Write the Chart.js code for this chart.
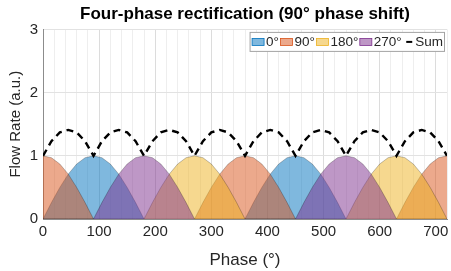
<!DOCTYPE html>
<html>
<head>
<meta charset="utf-8">
<script src="https://cdn.jsdelivr.net/npm/chart.js@4.4.0/dist/chart.umd.min.js"></script>
<style>
  html, body { margin: 0; padding: 0; background: #fff; }
</style>
</head>
<body>
<canvas id="grafico" width="451" height="271"></canvas>
<script>
// phase angle (degrees), sampled every 15°
const phases = [
  0, 15, 30, 45, 60, 75, 90, 105, 120, 135, 150, 165,
  180, 195, 210, 225, 240, 255, 270, 285, 300, 315, 330, 345,
  360, 375, 390, 405, 420, 435, 450, 465, 480, 495, 510, 525,
  540, 555, 570, 585, 600, 615, 630, 645, 660, 675, 690, 705,
  720
];

// rectified flow of each phase (a.u.)
const flow0 = [
  0, .26, .5, .71, .87, .97, 1, .97, .87, .71, .5, .26,
  0, 0, 0, 0, 0, 0, 0, 0, 0, 0, 0, 0,
  0, .26, .5, .71, .87, .97, 1, .97, .87, .71, .5, .26,
  0, 0, 0, 0, 0, 0, 0, 0, 0, 0, 0, 0,
  0
];
const flow90 = [
  1, .97, .87, .71, .5, .26, 0, 0, 0, 0, 0, 0,
  0, 0, 0, 0, 0, 0, 0, .26, .5, .71, .87, .97,
  1, .97, .87, .71, .5, .26, 0, 0, 0, 0, 0, 0,
  0, 0, 0, 0, 0, 0, 0, .26, .5, .71, .87, .97,
  1
];
const flow180 = [
  0, 0, 0, 0, 0, 0, 0, 0, 0, 0, 0, 0,
  0, .26, .5, .71, .87, .97, 1, .97, .87, .71, .5, .26,
  0, 0, 0, 0, 0, 0, 0, 0, 0, 0, 0, 0,
  0, .26, .5, .71, .87, .97, 1, .97, .87, .71, .5, .26,
  0
];
const flow270 = [
  0, 0, 0, 0, 0, 0, 0, .26, .5, .71, .87, .97,
  1, .97, .87, .71, .5, .26, 0, 0, 0, 0, 0, 0,
  0, 0, 0, 0, 0, 0, 0, .26, .5, .71, .87, .97,
  1, .97, .87, .71, .5, .26, 0, 0, 0, 0, 0, 0,
  0
];
const flowSum = [
  1, 1.23, 1.37, 1.41, 1.37, 1.23, 1, 1.23, 1.37, 1.41, 1.37, 1.23,
  1, 1.23, 1.37, 1.41, 1.37, 1.23, 1, 1.23, 1.37, 1.41, 1.37, 1.23,
  1, 1.23, 1.37, 1.41, 1.37, 1.23, 1, 1.23, 1.37, 1.41, 1.37, 1.23,
  1, 1.23, 1.37, 1.41, 1.37, 1.23, 1, 1.23, 1.37, 1.41, 1.37, 1.23,
  1
];

const nomes = ["0°", "90°", "180°", "270°", "Sum"];

const fonte = "'Liberation Sans', Arial, Helvetica, sans-serif";

function pontos(valores) {
  return phases.map((x, i) => ({ x, y: valores[i] }));
}

function area(nome, valores, cor, preenchimento, ordem) {
  return {
    label: nome,
    data: pontos(valores),
    fill: "origin",
    backgroundColor: preenchimento,
    borderColor: "rgba(0,0,0,0.3)",
    borderWidth: 0.8,
    swatchEdge: cor,
    pointRadius: 0,
    tension: 0,
    order: ordem
  };
}

// legend drawn inside the axes, top right, with a box
const legendaBox = {
  id: "legendaBox",
  afterDraw(chart) {
    const ctx = chart.ctx;
    const a = chart.chartArea;
    ctx.save();
    ctx.font = "13.5px " + fonte;
    const itens = chart.data.datasets.map(ds => ({ ds, w: ctx.measureText(ds.label).width }));
    let largura = 2;
    itens.forEach(it => { largura += (it.ds.fill ? 12 : 10) + 2 + it.w + 1.5; });
    const direita = a.right - 2.5;
    const esquerda = direita - largura;
    const topo = a.top + 3;
    const altura = 19;
    ctx.fillStyle = "#fff";
    ctx.fillRect(esquerda, topo, largura, altura);
    ctx.strokeStyle = "#a3a3a3";
    ctx.lineWidth = 1;
    ctx.strokeRect(esquerda, topo, largura, altura);

    let x = esquerda + 2;
    const cy = topo + altura / 2;
    ctx.textBaseline = "middle";
    itens.forEach(it => {
      const ds = it.ds;
      if (ds.fill) {
        ctx.fillStyle = ds.backgroundColor;
        ctx.fillRect(x, cy - 3.5, 12, 7);
        ctx.strokeStyle = ds.swatchEdge;
        ctx.lineWidth = 0.8;
        ctx.strokeRect(x, cy - 3.5, 12, 7);
        x += 12 + 2;
      } else {
        ctx.strokeStyle = "#000";
        ctx.lineWidth = 2;
        ctx.beginPath();
        ctx.moveTo(x + 3, cy);
        ctx.lineTo(x + 9, cy);
        ctx.stroke();
        x += 10 + 2;
      }
      ctx.fillStyle = "#262626";
      ctx.fillText(ds.label, x, cy + 0.5);
      x += it.w + 1.5;
    });
    ctx.restore();
  }
};

const grafico = new Chart(document.getElementById("grafico").getContext("2d"), {
  type: "line",
  data: {
    datasets: [
      area(nomes[0], flow0, "#0072BD", "rgba(0,114,189,0.5)", 4),
      area(nomes[1], flow90, "#D95319", "rgba(217,83,25,0.5)", 3),
      area(nomes[2], flow180, "#EDB120", "rgba(237,177,32,0.5)", 2),
      area(nomes[3], flow270, "#7E2F8E", "rgba(126,47,142,0.5)", 1),
      {
        label: nomes[4],
        data: pontos(flowSum),
        fill: false,
        borderColor: "#000",
        borderWidth: 2.4,
        borderDash: [7, 5],
        pointRadius: 0,
        tension: 0,
        order: 0
      }
    ]
  },
  options: {
    responsive: false,
    animation: false,
    devicePixelRatio: 1,
    layout: { padding: { left: 0, right: 3, top: 0, bottom: 0 } },
    plugins: {
      legend: { display: false },
      tooltip: { enabled: false },
      title: {
        display: true,
        fullSize: false,
        text: "Four-phase rectification (90° phase shift)",
        color: "#000",
        font: { family: fonte, size: 17, weight: "bold" },
        padding: { top: 4, bottom: 5 }
      }
    },
    scales: {
      x: {
        type: "linear",
        min: 0,
        max: 720,
        afterFit(scale) { scale.height = 52; },
        ticks: {
          stepSize: 20,
          autoSkip: false,
          maxRotation: 0,
          padding: 4,
          color: "#262626",
          font: { family: fonte, size: 15 },
          callback: v => (v % 100 === 0 ? v : "")
        },
        grid: {
          drawTicks: false,
          color: c => (c.tick && c.tick.value % 100 === 0 ? "#dcdcdc" : "#eeeeee"),
          lineWidth: 1
        },
        border: { color: "#8c8c8c", width: 1 },
        title: {
          display: true,
          text: "Phase (°)",
          color: "#262626",
          font: { family: fonte, size: 17 },
          padding: { top: 2, bottom: 0 }
        }
      },
      y: {
        min: 0,
        max: 3,
        afterFit(scale) { scale.width = 43; },
        ticks: {
          stepSize: 1,
          padding: 5,
          color: "#262626",
          font: { family: fonte, size: 15 }
        },
        grid: {
          drawTicks: false,
          color: "#e2e2e2",
          lineWidth: 1
        },
        border: { color: "#8c8c8c", width: 1 },
        title: {
          display: true,
          text: "Flow Rate (a.u.)",
          color: "#262626",
          font: { family: fonte, size: 15 },
          padding: { top: 7, bottom: 0 }
        }
      }
    }
  },
  plugins: [legendaBox]
});
</script>
</body>
</html>
